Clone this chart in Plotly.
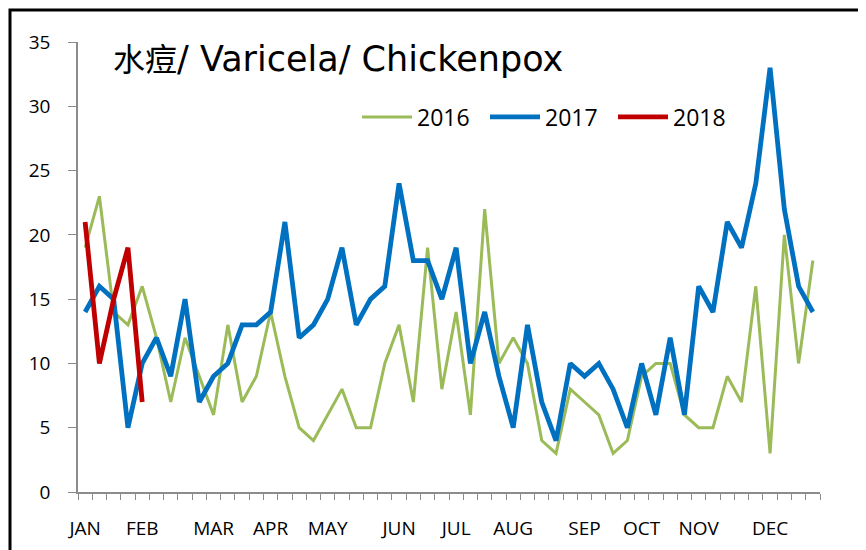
import plotly.graph_objects as go

weeks = list(range(1, 53))
month_weeks = [1, 5, 10, 14, 18, 23, 27, 31, 36, 40, 44, 49]
month_labels = ["JAN", "FEB", "MAR", "APR", "MAY", "JUN", "JUL", "AUG", "SEP", "OCT", "NOV", "DEC"]

y2016 = [19, 23, 14, 13, 16, 12, 7, 12, 9, 6, 13, 7, 9, 14, 9, 5, 4, 6, 8, 5,
         5, 10, 13, 7, 19, 8, 14, 6, 22, 10, 12, 10, 4, 3, 8, 7, 6, 3, 4, 9,
         10, 10, 6, 5, 5, 9, 7, 16, 3, 20, 10, 18]
y2017 = [14, 16, 15, 5, 10, 12, 9, 15, 7, 9, 10, 13, 13, 14, 21, 12, 13, 15, 19, 13,
         15, 16, 24, 18, 18, 15, 19, 10, 14, 9, 5, 13, 7, 4, 10, 9, 10, 8, 5, 10,
         6, 12, 6, 16, 14, 21, 19, 24, 33, 22, 16, 14]
y2018 = [21, 10, 15, 19, 7]

series = [
    ("2016", y2016, "#9BBB59", 3),
    ("2017", y2017, "#0070C0", 4.8),
    ("2018", y2018, "#C00000", 4.8),
]

fig = go.Figure()
for name, vals, color, w in series:
    fig.add_trace(go.Scatter(
        x=weeks[:len(vals)], y=vals, name=name, mode="lines",
        line=dict(color=color, width=w),
    ))

# page is drawn with an 8px body margin; compensate
OFF = 8
W, H = 866 - OFF, 550 - OFF
PL, PR, PT, PB = 78, 820, 42, 492   # plot area in page pixels
L, T = PL - OFF, PT - OFF
R, B = W - (PR - OFF), H - (PB - OFF)

def px_x(x):
    return (x - PL) / (PR - PL)

def px_y(y):
    return (PB - y) / (PB - PT)

fig.update_layout(
    width=W, height=H,
    margin=dict(l=L, r=R, t=T, b=B, autoexpand=False),
    paper_bgcolor="white", plot_bgcolor="white",
    font=dict(family="Open Sans, Noto Sans CJK SC", color="black", size=19),
    showlegend=True,
    legend=dict(
        orientation="h", x=px_x(357), y=px_y(117), xanchor="left", yanchor="middle",
        font=dict(size=23), bgcolor="rgba(0,0,0,0)", itemwidth=50,
        entrywidth=63, traceorder="normal",
    ),
    xaxis=dict(
        range=[0.5, 52.5], showgrid=False, zeroline=False,
        showline=True, linecolor="#8c8c8c", linewidth=1.5,
        tickmode="array", tickvals=month_weeks, ticktext=month_labels,
        ticks="", ticklabelstandoff=18,
        minor=dict(ticks="outside", ticklen=6, tickcolor="#8c8c8c",
                   tick0=0.5, dtick=1, showgrid=False),
        tickfont=dict(size=19),
    ),
    yaxis=dict(
        range=[0, 35], showgrid=False, zeroline=False,
        showline=True, linecolor="#8c8c8c", linewidth=1.5,
        tickmode="array", tickvals=list(range(0, 36, 5)),
        ticks="outside", ticklen=8, tickcolor="#8c8c8c",
        ticklabelstandoff=14, tickfont=dict(size=19),
    ),
    annotations=[dict(
        text="<span style='font-family:Noto Sans CJK SC;font-size:32px'>水痘</span>/ Varicela/ Chickenpox",
        xref="paper", yref="paper",
        x=px_x(111), y=px_y(57), xanchor="left", yanchor="middle",
        showarrow=False, font=dict(size=35, color="black", family="DejaVu Sans"),
    )],
    shapes=[dict(
        type="rect", xref="paper", yref="paper",
        x0=px_x(10), x1=px_x(900), y0=px_y(600), y1=px_y(10),
        line=dict(color="black", width=3), fillcolor="rgba(0,0,0,0)",
        layer="above",
    )],
)

fig.write_html("out.html")
